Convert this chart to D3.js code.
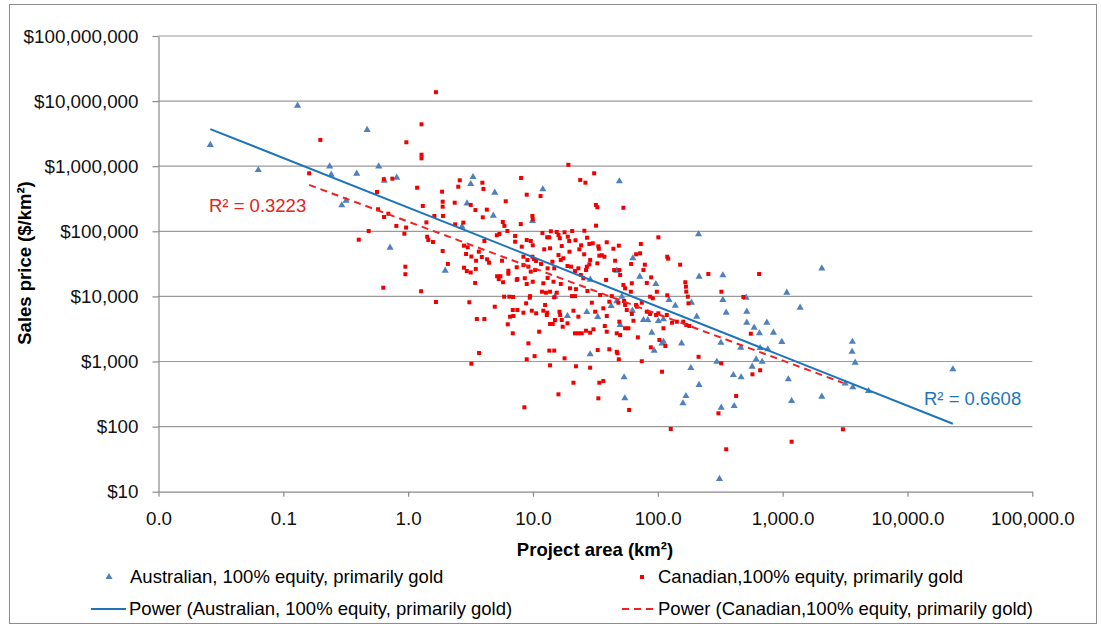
<!DOCTYPE html>
<html>
<head>
<meta charset="utf-8">
<script src="https://cdn.jsdelivr.net/npm/d3@7"></script>
<style>
  body { margin: 0; background: #fff; }
  text { font-family: "Liberation Sans", Arial, sans-serif; }
</style>
</head>
<body>
<svg id="chart" width="1101" height="628"></svg>
<script>
// Australian listed projects (100% equity, primarily gold)
const ausArea = [0.026,0.13,0.063,0.235,0.242,0.387,0.469,0.581,0.645,0.81,0.294,0.318,0.716,1.98,2.70,2.96,3.17,3.31,4.94,4.81,
  9.9,12.0,49.2,63.1,71.7,96.4,123,138,186,212,214,27.0,33.0,18.9,28.7,42.3,46.9,49.9,76.7,83.2,
  89.5,93.4,108,111,155,101,111,184,53.7,46.9,28.8,205,214,15.0,51.5,62.6,54.4,168,159,297,
  320,332,353,322,312,332,2060,1080,1380,510,516,516,591,652,747,844,985,462,660,761,
  613,685,570,403,465,1110,1180,2060,409,3170,3650,4870,3620,3600,3810,23100];
const ausPrice = [2120000,8500000,874000,995000,740000,767000,3600000,990000,600000,666000,251000,295000,56000,24800,118000,269000,533000,682000,392000,174000,
  144000,442000,586000,38500,20100,15500,8810,7200,8000,90000,20100,5760,4830,5000,1290,7120,8410,3640,4340,4340,
  2770,1470,1900,2010,1900,4190,4450,794,572,24800,18100,4880,436,9900,9900,6030,272,295,228,990,
  1940,8810,5620,195,15.7,21100,27000,11400,6700,9550,5820,3940,3310,2710,3940,2770,2000,1630,1610,1540,
  1080,990,832,620,572,533,247,288,207,462,402,352,2010,1410,958,759];

// Canadian listed projects (100% equity, primarily gold)
const canArea = [1.67,0.198,1.28,0.967,1.28,1.28,0.161,0.638,0.747,1.18,2.59,2.52,1.87,3.93,4.01,0.563,1.31,1.89,1.89,2.36,
  3.17,3.46,4.27,3.96,0.574,1.62,1.90,0.641,0.804,0.962,1.40,2.38,0.932,1.42,1.45,1.58,0.483,0.402,1.89,2.08,
  2.80,3.00,2.91,3.21,3.68,3.89,3.50,4.29,4.45,5.65,2.80,2.95,3.17,3.48,3.44,5.16,5.32,5.48,5.76,6.35,
  6.35,7.50,5.87,6.47,6.93,0.950,0.950,0.632,1.27,6.05,5.73,5.90,6.24,5.38,5.13,7.19,7.19,0.694,2.77,4.08,
  1.67,3.09,4.94,3.55,4.08,6.28,3.70,3.21,
  19.2,8.03,23.9,26.3,30.9,8.91,11.5,31.9,32.8,53.0,9.89,9.96,7.98,32.0,11.9,13.9,15.5,17.9,20.6,25.8,
  8.91,9.60,8.13,9.96,13.0,13.5,16.0,16.4,19.0,19.5,21.9,24.3,27.1,28.3,30.1,33.4,33.7,39.0,48.7,44.1,
  73.1,101,67.0,72.1,13.7,17.0,12.3,16.0,19.6,23.5,25.7,34.0,35.6,37.3,45.5,49.2,61.1,78.7,76.7,119,
  121,151,254,323,166,168,169,8.38,9.02,9.89,10.2,10.6,7.41,8.38,9.19,9.60,10.4,11.6,13.1,14.3,
  14.8,16.7,17.5,18.9,20.2,21.7,23.1,24.2,26.6,28.3,28.7,27.0,25.3,32.8,38.5,44.7,49.9,53.0,54.7,61.9,
  81.6,88.4,98.2,7.41,8.60,8.91,9.96,12.1,13.1,14.6,16.7,19.8,22.1,11.8,12.7,13.7,20.5,21.7,27.3,9.48,
  34.5,42.8,60.8,86.8,119,
  14.8,15.5,8.81,9.42,12.5,6.89,7.50,8.38,9.78,10.6,6.55,6.97,12.1,12.9,13.0,16.3,16.5,17.0,15.0,21.1,
  23.1,29.6,31.5,36.6,39.0,40.9,48.3,53.7,54.7,56.4,61.9,67.0,67.9,74.4,91.2,81.6,86.8,96.9,101,118,
  130,142,160,169,179,174,176,63.8,49.2,46.9,49.9,54.7,58.1,69.2,111,103,115,87.9,46.9,47.5,
  40.9,33.0,48.7,74.4,108,212,322,306,353,127,58.9,36.6,34.0,33.4,21.1,16.0,8.53,28.7,22.1,17.9,
  13.7,10.3,8.91,13.5,14.8,9.19,11.2,13.7,14.4,17.3,18.9,21.7,23.1,24.6,26.6,28.7,30.5,37.6,39.0,6.89,
  648,485,556,573,660,424,1180,3040];
const canPrice = [13700000,2530000,4400000,2330000,1500000,1320000,778000,631000,643000,467000,607000,484000,406000,558000,447000,402000,245000,285000,239000,275000,
  254000,212000,215000,164000,218000,172000,172000,166000,121000,114000,137000,128000,91900,82600,73500,68500,101000,74300,49800,31500,
  60100,56800,44800,41000,48600,40300,35300,37100,32900,35300,27600,24500,23300,26400,16100,20400,18500,20400,16500,24800,
  22300,18500,9900,9900,9790,28600,21900,13600,12000,289000,139000,121000,101000,90900,86800,84700,69200,186000,136000,71000,
  8200,8120,6950,4500,4500,3730,1350,925,
  1050000,659000,614000,558000,778000,365000,348000,254000,234000,230000,172000,153000,129000,122000,94200,100000,97500,96500,101000,102000,
  73500,71000,58000,60900,80900,80900,87700,78100,82600,71000,72700,60900,79700,63800,65400,58800,54000,67800,60100,54000,
  63800,80900,44300,45900,54800,59400,52900,43200,48600,52900,44300,42200,42800,40700,35300,25400,31500,30700,25400,40700,
  38000,30700,22100,11800,16500,14100,11800,40700,36200,40700,37500,35000,28000,30300,28600,24000,25400,31500,27000,34100,
  27000,36200,38500,29300,28600,24500,27000,21300,25400,31100,36200,28600,19000,32200,17900,25400,21300,15000,13300,15900,
  16100,19600,11800,17900,19000,15500,16800,15900,19200,16800,15500,13300,12900,11800,11400,11800,10100,10100,12100,10100,
  10500,10100,11800,9900,10400,
  9680,11400,7830,9550,7380,6180,6180,5620,6030,5500,4880,5000,6030,5180,5620,5820,5180,4340,4340,6030,
  4880,8000,5820,6560,5000,8290,8000,8500,7380,6180,5370,7380,6950,8000,9350,5820,5370,5180,5500,5180,
  3940,4090,4090,3640,3510,9900,7830,4230,4090,2710,2550,3240,3240,2350,3240,2140,1730,1650,1410,1340,
  1540,1500,1080,1010,697,1180,938,160,44.8,91.9,180,501,472,272,472,313,198,803,844,1120,
  874,1210,1080,1470,1470,1900,2870,3770,3770,3420,3860,2710,2710,2710,2970,2770,3120,3510,2870,2710,
  22100,9790,2670,636,733,295,58.6,90.9];

// Power trend lines  price = a * area^b
const ausFit = [231400, -0.761];
const canFit = [140700, -0.711];
const rSquaredLabels = ["R\u00b2 = 0.6608", "R\u00b2 = 0.3223"];

const xTicks = [0.01, 0.1, 1, 10, 100, 1000, 10000, 100000];
const yTicks = [10, 100, 1000, 10000, 100000, 1000000, 10000000, 100000000];

const legendLabels = [
  "Australian, 100% equity, primarily gold",
  "Canadian,100% equity, primarily gold",
  "Power (Australian, 100% equity, primarily gold)",
  "Power (Canadian,100% equity, primarily gold)"
];

const colors = { aus: "#4f81bd", can: "#f20000", ausLine: "#1c75bc", canLine: "#ee2222", grid: "#9a9a9a", axis: "#8a8a8a" };
const FONT = "18.5px";

const W = 1101, H = 628;
const plot = { left: 158.5, right: 1032.3, top: 36, bottom: 491.7 };

const svg = d3.select("#chart");
svg.append("rect").attr("width", W).attr("height", H).attr("fill", "#fff");
svg.append("rect").attr("x", 9.5).attr("y", 4.5).attr("width", 1087).attr("height", 619)
  .attr("fill", "none").attr("stroke", "#8c8c8c");

const x = d3.scaleLog().domain([0.01, 100000]).range([plot.left, plot.right]);
const y = d3.scaleLog().domain([10, 100000000]).range([plot.bottom, plot.top]);

// horizontal gridlines
svg.append("g").selectAll("line").data(yTicks.slice(1)).join("line")
  .attr("x1", plot.left).attr("x2", plot.right)
  .attr("y1", d => y(d)).attr("y2", d => y(d))
  .attr("stroke", colors.grid).attr("stroke-width", 1.2);

// axes
const yAxis = d3.axisLeft(y).tickValues(yTicks).tickFormat(d3.format("$,.0f"))
  .tickSize(6).tickSizeOuter(0).tickPadding(14);
const xAxis = d3.axisBottom(x).tickValues(xTicks).tickFormat(d3.format(",.1f"))
  .tickSize(5).tickSizeOuter(0).tickPadding(15);

const gy = svg.append("g").attr("transform", `translate(${plot.left},0)`).call(yAxis);
const gx = svg.append("g").attr("transform", `translate(0,${plot.bottom})`).call(xAxis);
[gx, gy].forEach(g => {
  g.select(".domain").attr("stroke", colors.axis).attr("stroke-width", 1.2);
  g.selectAll(".tick line").attr("stroke", colors.axis).attr("stroke-width", 1.2);
  g.selectAll(".tick text").attr("fill", "#111").style("font-size", "18.8px")
    .style("font-family", '"Liberation Sans", Arial, sans-serif');
});

// markers
const tri = d3.symbol(d3.symbolTriangle, 22);
svg.append("g").selectAll("path").data(d3.range(ausArea.length)).join("path")
  .attr("d", tri)
  .attr("transform", i => `translate(${x(ausArea[i])},${y(ausPrice[i])})`)
  .attr("fill", colors.aus);

svg.append("g").selectAll("rect").data(d3.range(canArea.length)).join("rect")
  .attr("x", i => x(canArea[i]) - 2).attr("y", i => y(canPrice[i]) - 2)
  .attr("width", 4).attr("height", 4)
  .attr("fill", colors.can);

// trend lines across each series' area range
function fitLine(areas, fit) {
  const ext = d3.extent(areas);
  return d3.line().x(d => x(d)).y(d => y(fit[0] * Math.pow(d, fit[1])))(ext);
}
svg.append("path").attr("d", fitLine(ausArea, ausFit))
  .attr("fill", "none").attr("stroke", colors.ausLine).attr("stroke-width", 2);
svg.append("path").attr("d", fitLine(canArea, canFit))
  .attr("fill", "none").attr("stroke", colors.canLine).attr("stroke-width", 2)
  .attr("stroke-dasharray", "7,5");

// R squared labels
svg.append("text").attr("x", 924).attr("y", 405).text(rSquaredLabels[0])
  .attr("fill", "#2176b8").style("font-size", FONT);
svg.append("text").attr("x", 209).attr("y", 212).text(rSquaredLabels[1])
  .attr("fill", "#e42320").style("font-size", FONT);

// axis titles
svg.append("text").attr("x", 595).attr("y", 556).attr("text-anchor", "middle")
  .style("font-size", FONT).style("font-weight", "bold").text("Project area (km\u00b2)");
svg.append("text").attr("transform", "translate(31,263) rotate(-90)").attr("text-anchor", "middle")
  .style("font-size", FONT).style("font-weight", "bold").text("Sales price ($/km\u00b2)");

// legend
const leg = svg.append("g").style("font-size", FONT);
leg.append("path").attr("d", tri).attr("transform", "translate(109,577)").attr("fill", colors.aus);
leg.append("text").attr("x", 130).attr("y", 583).text(legendLabels[0]);
leg.append("rect").attr("x", 640).attr("y", 575).attr("width", 4).attr("height", 4).attr("fill", colors.can);
leg.append("text").attr("x", 658).attr("y", 583).text(legendLabels[1]);
leg.append("line").attr("x1", 91).attr("x2", 126).attr("y1", 609).attr("y2", 609)
  .attr("stroke", colors.ausLine).attr("stroke-width", 2);
leg.append("text").attr("x", 129).attr("y", 615).text(legendLabels[2]);
leg.append("line").attr("x1", 622).attr("x2", 656).attr("y1", 609).attr("y2", 609)
  .attr("stroke", colors.canLine).attr("stroke-width", 2).attr("stroke-dasharray", "7,5");
leg.append("text").attr("x", 658).attr("y", 615).text(legendLabels[3]);
</script>
</body>
</html>
